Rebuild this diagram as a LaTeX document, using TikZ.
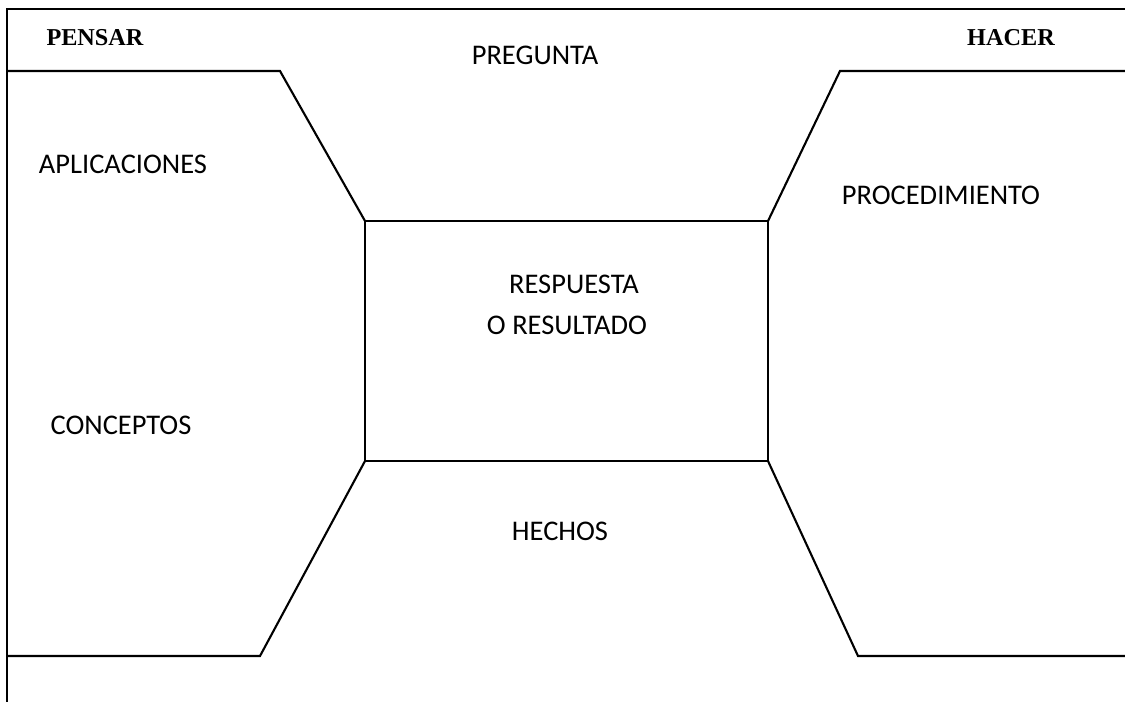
\documentclass[tikz,border=0pt]{standalone}
\usepackage{fontspec}
\setmainfont{Carlito}
\newfontfamily\titlefont{Liberation Serif}
\tikzset{
  lbl/.style={inner sep=0pt, font=\fontsize{16.2}{19}\selectfont},
  ttl/.style={inner sep=0pt, font=\titlefont\bfseries\fontsize{13.8}{17}\selectfont},
  edge/.style={line width=1.2pt, line join=miter}
}
\begin{document}
\begin{tikzpicture}[x=0.02cm, y=-0.02cm]
      \useasboundingbox (0,0) rectangle (1125,702);
      \draw
        (7,9) coordinate (tl)
        (1125,9) coordinate (tr)
        (7,702) coordinate (bl)
        (7,71) coordinate (la)
        (280,71) coordinate (lb)
        (365,221) coordinate (c1)
        (768,221) coordinate (c2)
        (768,461) coordinate (c3)
        (365,461) coordinate (c4)
        (840,71) coordinate (ra)
        (1125,71) coordinate (rb)
        (260,656) coordinate (lc)
        (7,656) coordinate (ld)
        (858,656) coordinate (rc)
        (1125,656) coordinate (rd);
      \path
        (95,38) node[ttl] (pensar){PENSAR}
        (1011,38) node[ttl] (hacer){HACER}
        (535,55) node[lbl] (pregunta){PREGUNTA}
        (123,164) node[lbl] (aplic){APLICACIONES}
        (941,195) node[lbl] (proced){PROCEDIMIENTO}
        (574,284) node[lbl] (resp){RESPUESTA}
        (567,325) node[lbl] (result){O RESULTADO}
        (121,425) node[lbl] (concep){CONCEPTOS}
        (560,531) node[lbl] (hechos){HECHOS};
      \begin{scope}[edge]
        \draw (tr) -- (tl) -- (bl);
        \draw (la) -- (lb) -- (c1);
        \draw (c1) -- (c2) -- (c3) -- (c4) -- cycle;
        \draw (c2) -- (ra) -- (rb);
        \draw (c4) -- (lc) -- (ld);
        \draw (c3) -- (rc) -- (rd);
      \end{scope}
    \end{tikzpicture}
\end{document}
